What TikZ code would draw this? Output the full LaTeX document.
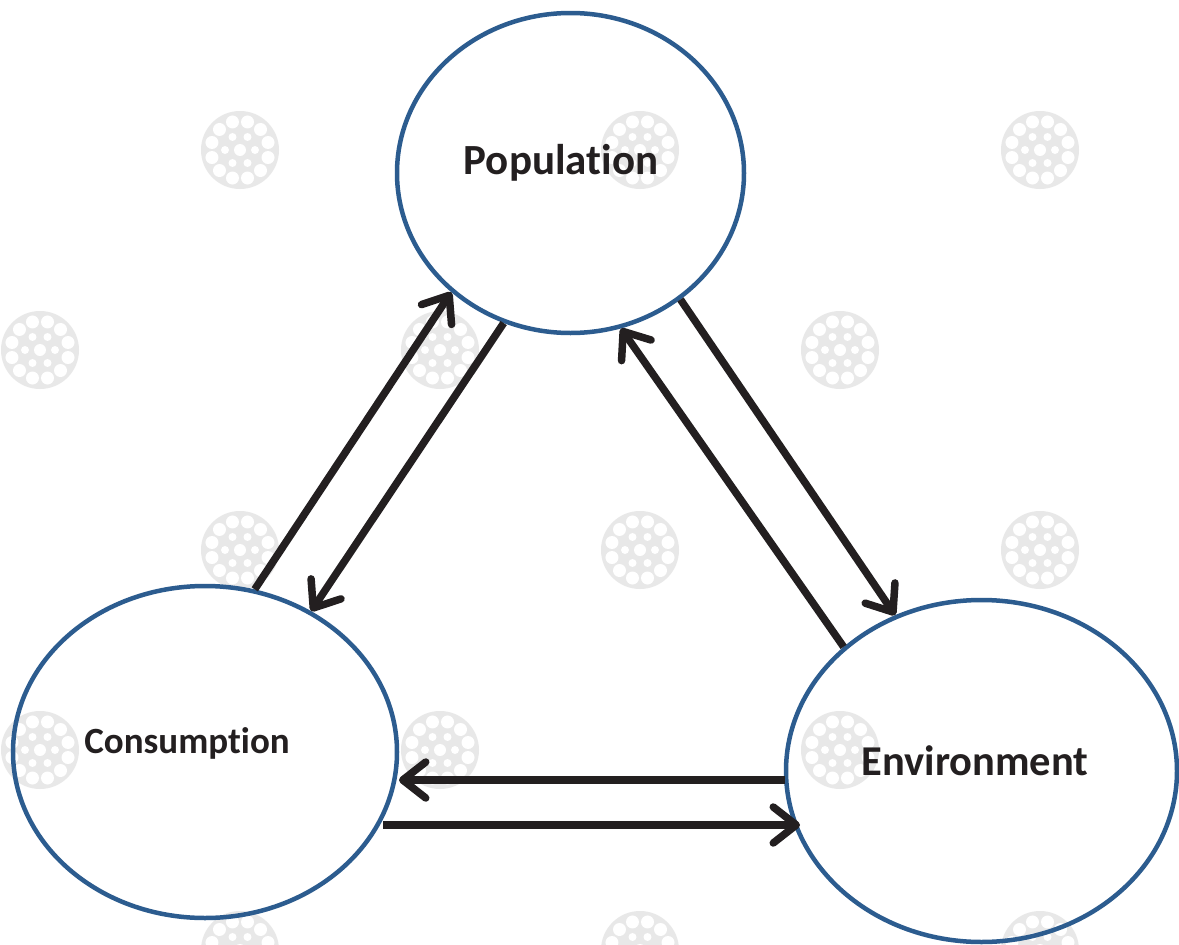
\documentclass[tikz,border=0pt]{standalone}
\usepackage{fontspec}
\setmainfont{Carlito}[Ligatures={NoCommon}]
\usetikzlibrary{shapes.geometric,arrows.meta,calc}
\definecolor{ringblue}{HTML}{2C5C8F}
\definecolor{inkblack}{HTML}{231F20}
\definecolor{patgrey}{HTML}{E8E8E8}
\tikzset{
  ringnode/.style={ellipse, draw=ringblue, line width=4.5pt, inner sep=0pt},
  labeltext/.style={text=inkblack, anchor=base, inner sep=0pt},
  flowarrow/.style={draw=inkblack, line width=7.5pt,
    -{Straight Barb[length=23pt, width=36pt, round]}},
}
\newcommand{\flowercenter}[2]{%
  \fill[patgrey] (#1,#2) circle (39);
  \fill[white] (#1,#2) circle (6);
  \foreach \a in {0,60,...,300}{\fill[white] ($(#1,#2)+(\a:15pt)$) circle (4);}
  \foreach \a in {15,45,...,345}{\fill[white] ($(#1,#2)+(\a:29pt)$) circle (6.5);}
}
\begin{document}
\begin{tikzpicture}[x=1pt,y=-1pt]
\useasboundingbox (0,0) rectangle (1179,945);
\fill[white] (0,0) rectangle (1179,945);
\begin{scope}
\clip (0,0) rectangle (1179,945);
\foreach \cx/\cy in {240/150,640/150,1040/150,40/350,440/350,840/350,
  240/550,640/550,1040/550,40/750,440/750,840/750,240/950,640/950,1040/950}{
  \flowercenter{\cx}{\cy}
}
\end{scope}
% circles
\node[ringnode, minimum width=347pt, minimum height=320pt] (pop) at (570.5,173) {};
\node[ringnode, minimum width=384pt, minimum height=332pt] (cons) at (205,752) {};
\node[ringnode, minimum width=391pt, minimum height=342pt] (env) at (981.5,771) {};
% labels
\node[labeltext, font=\bfseries\fontsize{43}{43}\selectfont] (poplab) at (561,174) {Population};
\node[labeltext, font=\bfseries\fontsize{37}{37}\selectfont] (conslab) at (187,753) {Consumption};
\node[labeltext, font=\bfseries\fontsize{42.5}{42.5}\selectfont] (envlab) at (975,775) {Environment};
% arrows
\draw[flowarrow] (cons.73.1) -- (pop.225.4);
\draw[flowarrow] (pop.246.4) -- (cons.53.5);
\draw[flowarrow] (pop.311.4) -- (env.119.2);
\draw[flowarrow] (env.138.9) -- (pop.288);
\draw[flowarrow] ($(env.center)+(-196.5,9)$) -- ($(cons.center)+(194,28)$);
\draw[flowarrow] ($(cons.center)+(178,73)$) -- ($(env.center)+(-181.5,54)$);
\end{tikzpicture}
\end{document}
